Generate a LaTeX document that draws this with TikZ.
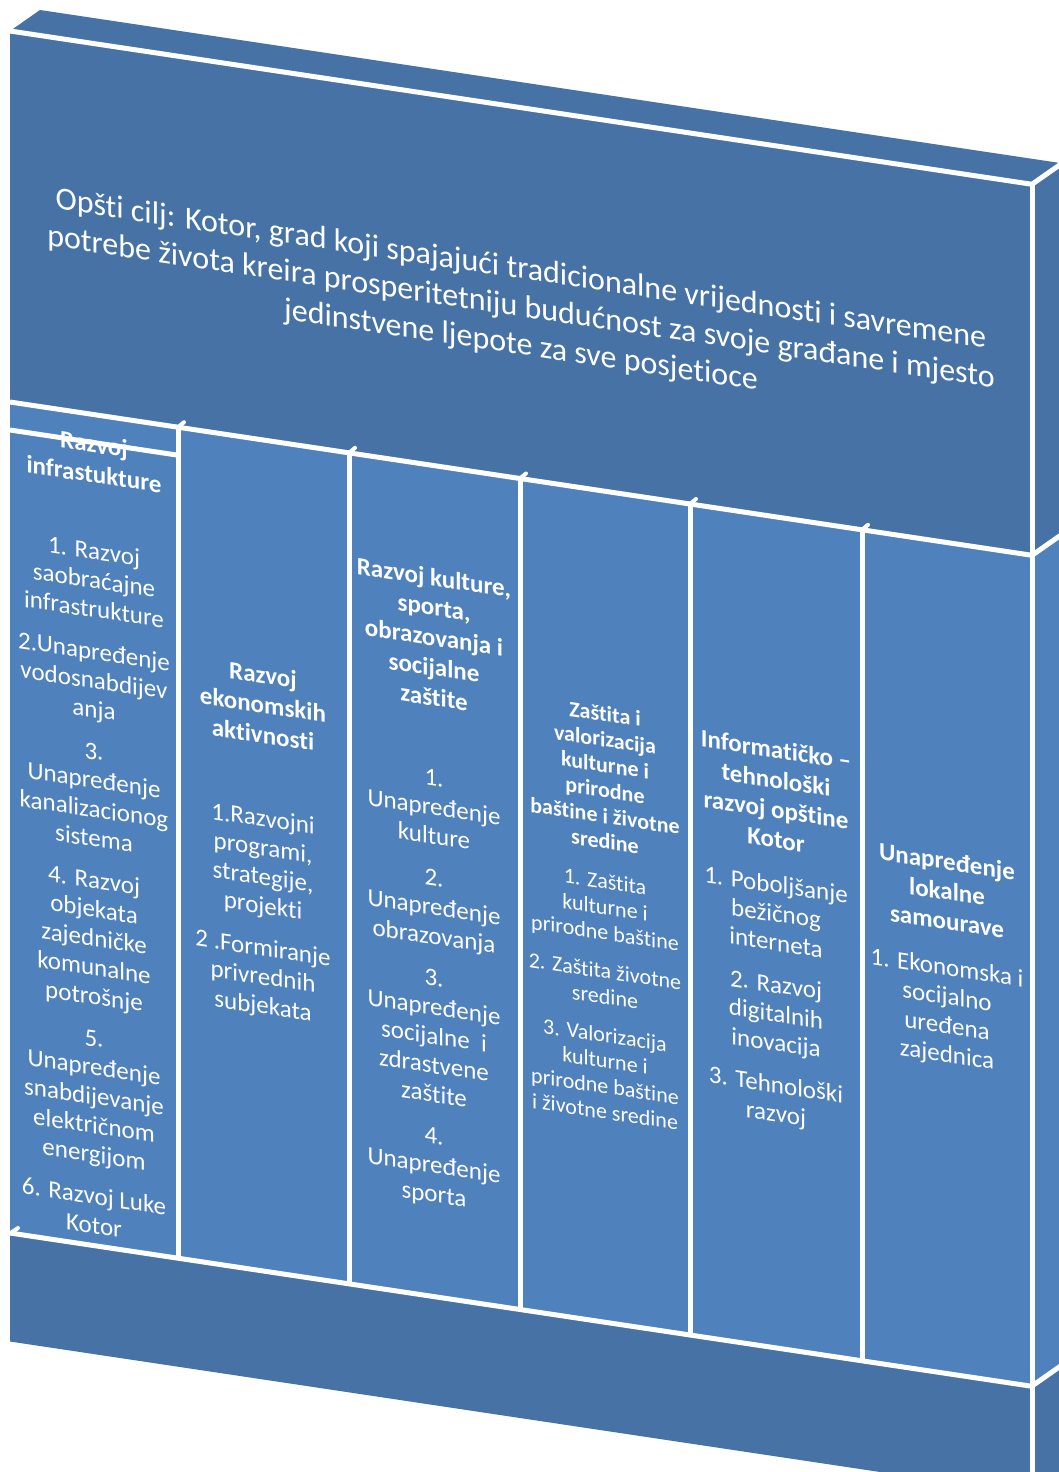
\documentclass[tikz,border=0pt]{standalone}
\usepackage{fontspec}
\setmainfont{Carlito}[Ligatures={NoCommon,NoContextual,NoRare}, Contextuals={NoAlternate}]
\definecolor{dk}{HTML}{4672A6}
\definecolor{lt}{HTML}{4F81BD}
\tikzset{
 wl/.style={white, line width=5pt},
 tk/.style={white, line width=4pt, line cap=round},
 hd/.style={text=white, align=center, inner sep=0pt, anchor=north, transform shape, font=\bfseries\fontsize{25}{30}\selectfont},
 bd/.style={text=white, align=center, inner sep=0pt, anchor=north, transform shape, font=\fontsize{25}{29}\selectfont},
 hds/.style={hd, font=\bfseries\fontsize{22}{25.5}\selectfont},
 bds/.style={bd, font=\fontsize{22}{25.5}\selectfont},
 ttl/.style={text=white, align=center, inner sep=0pt, transform shape, font=\fontsize{32}{38}\selectfont},
}
\begin{document}
\begin{tikzpicture}[x=1pt,y=-1pt]
\clip (0,0) rectangle (1059,1472);
% top and side faces
\fill[dk] (10,31) -- (40,10) -- (1062,163.3) -- (1032,184.3) -- cycle;
\fill[dk] (1032,184.3) -- (1062,163.3) -- (1062,534.3) -- (1032,555.3) -- cycle;
\fill[lt] (1032,555.3) -- (1062,534.3) -- (1062,1365) -- (1032,1386) -- cycle;
\fill[dk] (1032,1386) -- (1062,1365) -- (1062,1490) -- (1032,1490) -- cycle;
\begin{scope}[yslant=-0.15]
 \fill[dk] (10,29.5) rectangle (1032,400.5);
 \fill[lt] (10,400.5) rectangle (1032,1231.5);
 \fill[dk] (10,1231.5) rectangle (1032,1340);
 % title
 \node[ttl] (title) at (521,230) {Opšti cilj: Kotor, grad koji spajajući tradicionalne vrijednosti i savremene\\potrebe života kreira prosperitetniju budućnost za svoje građane i mjesto\\jedinstvene ljepote za sve posjetioce};
 % column 1
 \node[hd] (h1) at (94,421) {Razvoj\\infrastukture};
 \node[bd] (b1) at (94,528) {1. Razvoj\\saobraćajne\\infrastrukture\\[13pt]2.Unapređenje\\vodosnabdijev\\anja\\[13pt]3.\\Unapređenje\\kanalizacionog\\sistema\\[13pt]4. Razvoj\\objekata\\zajedničke\\komunalne\\potrošnje\\[13pt]5.\\Unapređenje\\snabdijevanje\\električnom\\energijom\\[13pt]6. Razvoj Luke\\Kotor};
 % column 2
 \node[hd] (h2) at (263,626) {Razvoj\\ekonomskih\\aktivnosti};
 \node[bd] (b2) at (263,770) {1.Razvojni\\programi,\\strategije,\\projekti\\[13pt]2 .Formiranje\\privrednih\\subjekata};
 % column 3
 \node[hd] (h3) at (434,503) {Razvoj kulture,\\sporta,\\obrazovanja i\\socijalne\\zaštite};
 \node[bd] (b3) at (434,705) {1.\\Unapređenje\\kulture\\[13pt]2.\\Unapređenje\\obrazovanja\\[13pt]3.\\Unapređenje\\socijalne~~i\\zdrastvene\\zaštite\\[13pt]4.\\Unapređenje\\sporta};
 % column 4
 \node[hds] (h4) at (605,615) {Zaštita i\\valorizacija\\kulturne i\\prirodne\\baštine i životne\\sredine};
 \node[bds] (b4) at (605,783) {1. Zaštita\\kulturne i\\prirodne baštine\\[13pt]2. Zaštita životne\\sredine\\[13pt]3. Valorizacija\\kulturne i\\prirodne baštine\\i životne sredine};
 % column 5
 \node[hd] (h5) at (776,624) {Informatičko --\\tehnološki\\razvoj opštine\\Kotor};
 \node[bd] (b5) at (776,759) {1. Poboljšanje\\bežičnog\\interneta\\[13pt]2. Razvoj\\digitalnih\\inovacija\\[13pt]3. Tehnološki\\razvoj};
 % column 6
 \node[hd] (h6) at (947,710) {Unapređenje\\lokalne\\samourave};
 \node[bd] (b6) at (947,816) {1. Ekonomska i\\socijalno\\uređena\\zajednica};
 % white edges
 \draw[wl] (10,29.5) -- (1032,29.5);
 \draw[wl] (1032,29.5) -- (1032,1340);
 \draw[wl] (10,400.5) -- (1032,400.5);
 \draw[wl] (10,428.5) -- (178,428.5);
 \foreach \xx in {178,349,520,690,862} \draw[wl] (\xx,400.5) -- (\xx,1231.5);
 \draw[wl] (10,1231.5) -- (1032,1231.5);
\end{scope}
\draw[wl] (1032,184.3) -- (1062,163.3);
\draw[wl] (1032,555.3) -- (1062,534.3);
\draw[wl] (1032,1386) -- (1062,1365);
\foreach \xx in {178,349,520,690,862} \draw[tk] (\xx,{400.5+0.15*\xx}) -- ++(6,-5);
\draw[tk] (12,1232) -- ++(6,-4);
\end{tikzpicture}
\end{document}
